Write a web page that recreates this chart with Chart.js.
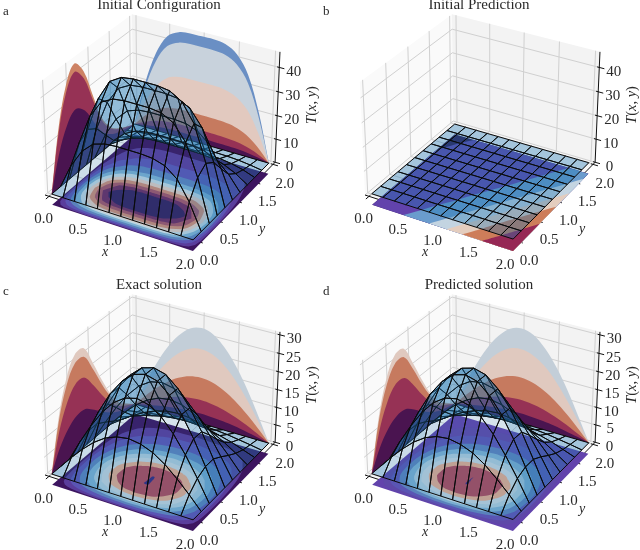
<!DOCTYPE html>
<html><head><meta charset="utf-8">
<style>html,body{margin:0;padding:0;background:#fff}#w{position:relative;width:640px;height:550px;overflow:hidden}canvas{position:absolute}</style>
<script src="https://cdn.jsdelivr.net/npm/chart.js@4"></script></head>
<body><div id="w"></div>
<script>
// ---------- values (rows: x=0,1/6..2; columns: y=0,0.2..2) ----------
const xyTicks=[0,0.5,1,1.5,2];
const zTicksTop=[0,10,20,30,40];
const zTicksBottom=[0,5,10,15,20,25,30];
const surfaceA=[
[0,0,0,0,0,0,0,0,0,0,0],
[0,10.4,17,19.6,17,11.4,6,3.2,1.7,.8,0],
[0,17.9,29.3,33.7,29.3,19.5,10.4,5.5,3,1.3,0],
[0,22.3,36.4,41.9,36.4,24.3,12.9,6.8,3.7,1.7,0],
[0,23.8,39,44.8,39,26,13.8,7.3,3.9,1.8,0],
[0,24.2,39.6,45.5,39.6,26.4,14,7.4,4,1.8,0],
[0,24.2,39.6,45.5,39.6,26.4,14,7.4,4,1.8,0],
[0,24.2,39.6,45.5,39.6,26.4,14,7.4,4,1.8,0],
[0,23.8,39,44.8,39,26,13.8,7.3,3.9,1.8,0],
[0,22.3,36.4,41.9,36.4,24.3,12.9,6.8,3.7,1.7,0],
[0,18.4,30.1,34.6,30.1,20.1,10.6,5.6,3,1.4,0],
[0,10.6,17.4,20.1,17.4,11.6,6.2,3.3,1.8,.8,0],
[0,0,0,0,0,0,0,0,0,0,0]];
const surfaceB=[
[.130,.117,.105,.092,.080,.067,.054,.042,.029,.017,.004],
[.147,.134,.122,.109,.097,.084,.071,.059,.046,.034,.021],
[.163,.150,.138,.125,.113,.100,.087,.075,.062,.050,.037],
[.180,.167,.155,.142,.130,.117,.104,.092,.079,.067,.054],
[.197,.184,.172,.159,.147,.134,.121,.109,.096,.084,.071],
[.213,.200,.188,.175,.163,.150,.137,.125,.112,.100,.087],
[.230,.217,.205,.192,.180,.167,.154,.142,.129,.117,.104],
[.247,.234,.222,.209,.197,.184,.171,.159,.146,.134,.121],
[.263,.250,.238,.225,.213,.200,.187,.175,.162,.150,.137],
[.280,.267,.255,.242,.230,.217,.204,.192,.179,.167,.154],
[.297,.284,.272,.259,.247,.234,.221,.209,.196,.184,.171],
[.313,.300,.288,.275,.263,.250,.237,.225,.212,.200,.187],
[.330,.317,.305,.292,.280,.267,.254,.242,.229,.217,.204]];
const surfaceC=[
[0,0,0,0,0,0,0,0,0,0,0],
[0,3.6,5.9,7,7,5.5,3.8,2.3,1.2,.6,0],
[0,6.9,11.3,13.6,13.5,10.6,7.3,4.4,2.4,1.1,0],
[0,9.8,16,19.2,19,15,10.3,6.2,3.3,1.6,0],
[0,12,19.6,23.4,23.3,18.4,12.6,7.6,4.1,1.9,0],
[0,13.3,21.8,26.2,26.1,20.5,14.1,8.5,4.5,2.1,0],
[0,13.8,22.6,27.1,27,21.2,14.6,8.8,4.7,2.2,0],
[0,13.3,21.8,26.2,26.1,20.5,14.1,8.5,4.5,2.1,0],
[0,12,19.6,23.4,23.3,18.4,12.6,7.6,4.1,1.9,0],
[0,9.8,16,19.2,19,15,10.3,6.2,3.3,1.6,0],
[0,6.9,11.3,13.6,13.5,10.6,7.3,4.4,2.4,1.1,0],
[0,3.6,5.9,7,7,5.5,3.8,2.3,1.2,.6,0],
[0,0,0,0,0,0,0,0,0,0,0]];
const surfaceD=[
[.1,.1,.1,.1,.1,.1,.1,.1,.1,.1,.1],
[.1,3.7,6,7,6.9,5.6,3.9,2.4,1.3,.7,.1],
[.1,7,11.3,13.5,13.4,10.7,7.4,4.5,2.5,1.2,.1],
[.1,9.9,16,19.1,18.9,15.1,10.4,6.3,3.4,1.7,.1],
[.1,12.1,19.6,23.3,23.2,18.5,12.7,7.7,4.2,2,.1],
[.1,13.4,21.8,26.1,26,20.6,14.2,8.6,4.6,2.2,.1],
[.1,13.8,22.5,27,26.9,21.2,14.7,8.9,4.8,2.3,.1],
[.1,13.2,21.7,26.1,26,20.4,14.1,8.5,4.6,2.2,.1],
[.1,11.9,19.5,23.3,23.2,18.3,12.6,7.6,4.2,2,.1],
[.1,9.7,15.9,19.1,18.9,14.9,10.3,6.2,3.4,1.7,.1],
[.1,6.8,11.2,13.5,13.4,10.5,7.3,4.4,2.5,1.2,.1],
[.1,3.6,5.9,6.9,6.9,5.5,3.8,2.3,1.3,.7,.1],
[.1,.1,.1,.1,.1,.1,.1,.1,.1,.1,.1]];
const xNodes=[0,1/6,2/6,3/6,4/6,5/6,1,7/6,8/6,9/6,10/6,11/6,2];
const yNodes=[0,.2,.4,.6,.8,1,1.2,1.4,1.6,1.8,2];
const titles=["Initial Configuration","Initial Prediction","Exact solution","Predicted solution"];
const letters=["a","b","c","d"];
const floorLevelsA=[1.5,4.5,8.5,13,17.5,22,26.5,31,35.5,39.5];
const floorColorsA=["#3d1560","#5a3d9c","#5a55b4","#5a82bc","#7aaed0","#bcd4e0","#d9c8c0","#c98a76","#a05468","#6a2c62","#33205f"];
const floorLevelsB=[.033,.176,.213,.238,.26,.288];
const floorColorsB=["#2f144b","#6243ac","#6a9ccd","#c3d4e1","#e4cdbe","#cd7d5a","#962855"];
const floorLevelsC=[1.2,3,6,9,12,15,18,21,26.9];
const floorColorsC=["#3d1560","#5a3d9c","#5a55b4","#5a82bc","#7aaed0","#a8c8da","#bcd0dc","#dba88f","#a84a5c","#2f2a80"];
const floorColorsD=["#6243ac","#5e48a8","#5a55b4","#5a82bc","#7aaed0","#a8c8da","#bcd0dc","#dba88f","#a84a5c","#2f2a80"];
const backLevelsA=[.6,.75,1,1.25,1.5,1.75];
const backColorsA=["#6a8fc4","#c8d2dc","#e2c9bf","#c67a5f","#963255","#4a1450"];
const leftLevelsA=[.75,.5,.25];
const leftColorsA=["#cd8264","#963255","#4a1450"];
const backLevelsC=[.7,1,1.25,1.5,1.75];
const backColorsC=["#c3ced8","#e0c9bf","#c67a5f","#963255","#4a1450"];
const leftLevelsC=[1,.75,.5,.25];
const leftColorsC=["#e0c9bf","#c67a5f","#963255","#4a1450"];

const panels=[
 {t:surfaceA,zMax:46.3,ticks:zTicksTop,levels:floorLevelsA,colors:floorColorsA,center:[1,.6],back:backLevelsA,backC:backColorsA,left:leftLevelsA,leftC:leftColorsA,top:195,ox:0,oy:0},
 {t:surfaceB,zMax:46.3,ticks:zTicksTop,levels:floorLevelsB,colors:floorColorsB,center:[2,0],back:[],backC:[],left:[],leftC:[],top:195,ox:320,oy:0},
 {t:surfaceC,zMax:30.8,ticks:zTicksBottom,levels:floorLevelsC,colors:floorColorsC,center:[1,.65],back:backLevelsC,backC:backColorsC,left:leftLevelsC,leftC:leftColorsC,top:200,ox:0,oy:275},
 {t:surfaceD,zMax:30.8,ticks:zTicksBottom,levels:floorLevelsC,colors:floorColorsD,center:[1,.65],back:backLevelsC,backC:backColorsC,left:leftLevelsC,leftC:leftColorsC,top:200,ox:320,oy:275}
];
// ---------- view ----------
const M=.06,XB0=-M,XB1=2+M,ZBOX=.857;
const R=[.866,.5,0],U=[-.25,.433,.866],W=[.433,-.75,.5];
const dot=(a,b)=>a[0]*b[0]+a[1]*b[1]+a[2]*b[2];
const boxP=(x,y,z,zMax)=>[((x+M)/(2+2*M)-.5)*1.143,((y+M)/(2+2*M)-.5)*1.143,-.4286+z/zMax*ZBOX];
function proj(x,y,z,zMax){const p=boxP(x,y,z,zMax),d=10-dot(p,W);return {x:dot(p,R)/d,y:dot(p,U)/d};}
function sample(t,x,y){
 const fx=Math.min(x*6,11.999),fy=Math.min(y/.2,9.999),i=Math.floor(fx),j=Math.floor(fy),a=fx-i,b=fy-j;
 return t[i][j]*(1-a)*(1-b)+t[i+1][j]*a*(1-b)+t[i][j+1]*(1-a)*b+t[i+1][j+1]*a*b;
}
function levelRegion(P,L){
 const per=[];
 for(let k=0;k<20;k++)per.push([k*.1,0]);
 for(let k=0;k<20;k++)per.push([2,k*.1]);
 for(let k=0;k<20;k++)per.push([2-k*.1,2]);
 for(let k=0;k<20;k++)per.push([0,2-k*.1]);
 const out=[],[cx,cy]=P.center;let any=false;
 for(const [px,py] of per){
  let hit=null;
  for(let s=60;s>=0;s--){
   const q=s/60,v=sample(P.t,cx+(px-cx)*q,cy+(py-cy)*q);
   if(v>=L){let q2=q;
    if(s<60){const n=(s+1)/60,v2=sample(P.t,cx+(px-cx)*n,cy+(py-cy)*n);q2=q+(n-q)*(v-L)/Math.max(v-v2,1e-6);}
    hit=[cx+(px-cx)*q2,cy+(py-cy)*q2];any=true;break;}
  }
  out.push(hit||[cx,cy]);
 }
 return any?out:null;
}
function poly(pts,o){
 return Object.assign({data:pts,showLine:true,pointRadius:0,borderWidth:0,borderColor:'rgba(0,0,0,0)',clip:false,tension:0},o);
}
function line(a,b,c,w){return poly([a,b],{borderColor:c,borderWidth:w,polyFill:null});}
function build(P){
 const z=P.zMax,ds=[],pr=(x,y,t)=>proj(x,y,t,z),zTop=P.zMax;
 ds.push(poly([pr(XB0,XB0,0),pr(XB0,XB1,0),pr(XB0,XB1,zTop),pr(XB0,XB0,zTop)],{polyFill:'#fafafa'}));
 ds.push(poly([pr(XB0,XB1,0),pr(XB1,XB1,0),pr(XB1,XB1,zTop),pr(XB0,XB1,zTop)],{polyFill:'#f3f3f3'}));
 ds.push(poly([pr(XB0,XB0,0),pr(XB1,XB0,0),pr(XB1,XB1,0),pr(XB0,XB1,0)],{polyFill:'#f6f6f6'}));
 const G='#d0d0d0';
 for(const v of xyTicks){
  ds.push(line(pr(v,XB1,0),pr(v,XB1,zTop),G,1));
  ds.push(line(pr(XB0,v,0),pr(XB0,v,zTop),G,1));
  ds.push(line(pr(v,XB0,0),pr(v,XB1,0),G,1));
  ds.push(line(pr(XB0,v,0),pr(XB1,v,0),G,1));
 }
 for(const v of P.ticks){
  ds.push(line(pr(XB0,XB0,v),pr(XB0,XB1,v),G,1));
  ds.push(line(pr(XB0,XB1,v),pr(XB1,XB1,v),G,1));
 }
 ds.push(line(pr(XB1,XB1,0),pr(XB1,XB1,zTop),'#111',1));
 for(const v of P.ticks)ds.push(line(pr(XB1-.03,XB1,v),pr(XB1+.07,XB1,v),'#111',1));
 ds.push(line(pr(XB0,XB0,0),pr(XB1,XB0,0),'#111',1));
 ds.push(line(pr(XB1,XB0,0),pr(XB1,XB1,0),'#111',1));
 for(const v of xyTicks){
  ds.push(line(pr(v,XB0+.03,0),pr(v,XB0-.07,0),'#111',1));
  ds.push(line(pr(XB1-.03,v,0),pr(XB1+.07,v,0),'#111',1));
 }
 P.back.forEach((lvl,k)=>{
  const pts=xNodes.map(x=>pr(x,2,sample(P.t,x,lvl)));
  ds.push(poly(pts,{polyFill:P.backC[k],tension:.35}));
 });
 P.left.forEach((lvl,k)=>{
  const pts=yNodes.map(y=>pr(0,y,sample(P.t,lvl,y)));
  ds.push(poly(pts,{polyFill:P.leftC[k],tension:.35}));
 });
 const zf=-.1*z;
 const sq=[[0,0],[2,0],[2,2],[0,2]];
 ds.push(poly(sq.map(q=>pr(q[0],q[1],zf)),{polyFill:P.colors[0]}));
 P.levels.forEach((L,k)=>{
  const r=levelRegion(P,L);
  if(r)ds.push(poly(r.map(q=>pr(q[0],q[1],zf)),{polyFill:P.colors[k+1]}));
 });
 const cells=[],hx=(1/6)/2.12*1.143,hy=.2/2.12*1.143,k=ZBOX/z;
 for(let i=0;i<12;i++)for(let j=0;j<10;j++){
  const x0=xNodes[i],x1=xNodes[i+1],y0=yNodes[j],y1=yNodes[j+1];
  const c=[[x0,y0],[x1,y0],[x1,y1],[x0,y1]].map((q,n)=>[q[0],q[1],P.t[n==0||n==3?i:i+1][n<2?j:j+1]]);
  const cen=boxP((x0+x1)/2,(y0+y1)/2,(c[0][2]+c[1][2]+c[2][2]+c[3][2])/4,z);
  const tx=((c[1][2]+c[2][2]-c[0][2]-c[3][2])/2)*k/hx,ty=((c[2][2]+c[3][2]-c[0][2]-c[1][2])/2)*k/hy;
  const nn=Math.hypot(tx,ty,1),s=(-tx*W[0]-ty*W[1]+W[2])/nn;
  const a=s>.55?Math.max(.15,.38-(s-.55)*.75):.38;
  cells.push({d:dot(cen,W),c,a});
 }
 cells.sort((p,q)=>p.d-q.d);
 for(const e of cells){
  const pts=e.c.map(q=>pr(q[0],q[1],q[2]));pts.push(pts[0]);
  ds.push(poly(pts,{polyFill:`rgba(31,119,180,${e.a.toFixed(3)})`,borderColor:'#0a0a0a',borderWidth:1}));
 }
 return ds;
}
const polyFillPlugin={id:'polyFill',beforeDatasetDraw(chart,args){
 const d=chart.data.datasets[args.index];
 if(!d.polyFill)return;
 const ln=args.meta.dataset,ctx=chart.ctx;
 ctx.save();ctx.beginPath();ln.path(ctx);ctx.closePath();ctx.fillStyle=d.polyFill;ctx.fill();ctx.restore();
}};
const INK='#2a2a2a',SERIF='"Liberation Serif"';
function textPlugin(P,idx){return {id:'labels',afterDraw(chart){
 const c=chart.ctx,sx=chart.scales.x,sy=chart.scales.y,z=P.zMax;
 const at=(x,y,t)=>{const p=proj(x,y,t,z);return [sx.getPixelForValue(p.x),sy.getPixelForValue(p.y)];};
 const dy=P.top-195;
 c.save();c.fillStyle=INK;c.textAlign='center';c.textBaseline='middle';
 c.font='15px '+SERIF;
 c.fillText(titles[idx],159,dy?10:5);
 c.font='13px '+SERIF;c.textAlign='left';
 c.fillText(letters[idx],3,dy?17:12);
 c.textAlign='center';c.font='15px '+SERIF;
 for(const v of xyTicks){
  const a=at(v,0,0);c.fillText(v.toFixed(1),a[0]-8,a[1]+25);
  const b=at(2,v,0);c.fillText(v.toFixed(1),b[0]+16,b[1]+21);
 }
 for(const v of P.ticks){
  const a=at(XB1,XB1,v);c.fillText(String(v),a[0]+14.5,a[1]+4.5);
 }
 c.font='italic 14px '+SERIF;
 c.fillText('x',105,252+dy);
 c.fillText('y',262,229+dy);
 c.translate(312,105+dy);c.rotate(-Math.PI/2);
 const parts=[['T','italic '],['(',''],['x','italic '],[', ',''],['y','italic '],[')','']];
 c.textAlign='left';let tw=0;
 for(const q of parts){c.font=q[1]+'14.5px '+SERIF;tw+=c.measureText(q[0]).width;}
 let px=-tw/2;
 for(const q of parts){c.font=q[1]+'14.5px '+SERIF;c.fillText(q[0],px,0);px+=c.measureText(q[0]).width;}
 c.restore();
}};}
panels.forEach((P,idx)=>{
 const cv=document.createElement('canvas');cv.width=320;cv.height=275;
 cv.style.left=P.ox+'px';cv.style.top=P.oy+'px';cv.style.width='320px';cv.style.height='275px';
 document.getElementById('w').appendChild(cv);
 const xMin=-.0778-45/1505,yMax=P.top/1505-.0474;
 new Chart(cv,{type:'scatter',
  data:{datasets:build(P).reverse()},
  options:{responsive:false,animation:false,events:[],devicePixelRatio:1,
   layout:{padding:0},
   plugins:{legend:{display:false},tooltip:{enabled:false},title:{display:false}},
   scales:{x:{type:'linear',display:false,min:xMin,max:xMin+320/1505},
           y:{type:'linear',display:false,min:yMax-275/1505,max:yMax}}},
  plugins:[polyFillPlugin,textPlugin(P,idx)]});
});
</script></body></html>
